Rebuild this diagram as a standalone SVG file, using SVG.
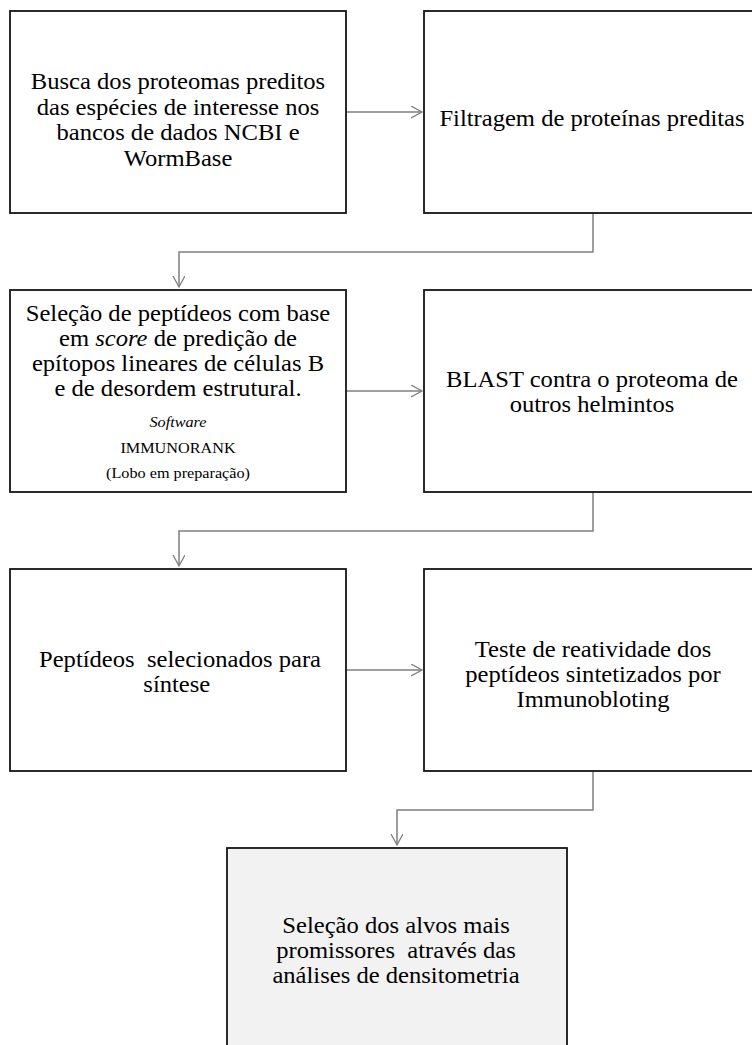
<svg xmlns="http://www.w3.org/2000/svg" width="752" height="1045" viewBox="0 0 752 1045">
<style>
.box{fill:#ffffff;stroke:#151515;stroke-width:1.8}
.box.final{fill:#f2f2f2}
.t{font-family:"Liberation Serif","Times New Roman",serif;font-size:23px;fill:#000;text-anchor:middle}
.s{font-family:"Liberation Serif","Times New Roman",serif;font-size:15px;fill:#000;text-anchor:middle}
.i{font-style:italic}
.pre{white-space:pre}
.conn{fill:none;stroke:#7f7f7f;stroke-width:1.5}
</style>
<defs>
<marker id="arr" markerUnits="userSpaceOnUse" markerWidth="14" markerHeight="14" refX="11" refY="6" orient="auto">
<path d="M0,0 L11,6 L0,12" fill="none" stroke="#7f7f7f" stroke-width="1.3"/>
</marker>
</defs>
<rect width="752" height="1045" fill="#ffffff"/>
<g id="connectors">
<path class="conn" d="M346,112 H422" marker-end="url(#arr)"/>
<path class="conn" d="M346,391 H422" marker-end="url(#arr)"/>
<path class="conn" d="M346,670 H422" marker-end="url(#arr)"/>
<path class="conn" d="M593,213 V252 H179 V287" marker-end="url(#arr)"/>
<path class="conn" d="M593,492 V531 H179 V566" marker-end="url(#arr)"/>
<path class="conn" d="M593,771 V810 H397 V845" marker-end="url(#arr)"/>
</g>
<g id="n1">
<rect class="box" x="10" y="11" width="336" height="202"/>
<g transform="translate(178 0) scale(1.07 1)">
<text class="t" x="0" y="89">Busca dos proteomas preditos</text>
<text class="t" x="0" y="115">das espécies de interesse nos</text>
<text class="t" x="0" y="140">bancos de dados NCBI e</text>
<text class="t" x="0" y="166">WormBase</text>
</g>
</g>
<g id="n2">
<rect class="box" x="424" y="11" width="338" height="202"/>
<g transform="translate(592 0) scale(1.07 1)">
<text class="t" x="0" y="126">Filtragem de proteínas preditas</text>
</g>
</g>
<g id="n3">
<rect class="box" x="10" y="290" width="336" height="202"/>
<g transform="translate(178 0) scale(1.07 1)">
<text class="t" x="0" y="321">Seleção de peptídeos com base</text>
<text class="t" x="0" y="346">em <tspan class="i">score</tspan> de predição de</text>
<text class="t" x="0" y="371">epítopos lineares de células B</text>
<text class="t" x="0" y="396">e de desordem estrutural.</text>
</g>
<g transform="translate(178 0) scale(1.08 1)">
<text class="s i" x="0" y="427">Software</text>
<text class="s" x="0" y="453">IMMUNORANK</text>
<text class="s" x="0" y="478">(Lobo em preparação)</text>
</g>
</g>
<g id="n4">
<rect class="box" x="424" y="290" width="338" height="202"/>
<g transform="translate(592 0) scale(1.07 1)">
<text class="t" x="0" y="387">BLAST contra o proteoma de</text>
<text class="t" x="0" y="412">outros helmintos</text>
</g>
</g>
<g id="n5">
<rect class="box" x="10" y="569" width="336" height="202"/>
<g transform="translate(180 0) scale(1.07 1)">
<text class="t pre" x="0" y="667">Peptídeos  selecionados para</text>
<text class="t" x="-3" y="692">síntese</text>
</g>
</g>
<g id="n6">
<rect class="box" x="424" y="569" width="338" height="202"/>
<g transform="translate(593 0) scale(1.07 1)">
<text class="t" x="0" y="657">Teste de reatividade dos</text>
<text class="t" x="0" y="682">peptídeos sintetizados por</text>
<text class="t" x="0" y="707">Immunobloting</text>
</g>
</g>
<g id="n7">
<rect class="box final" x="227" y="848" width="340" height="210"/>
<g transform="translate(396 0) scale(1.07 1)">
<text class="t" x="0" y="933">Seleção dos alvos mais</text>
<text class="t pre" x="0" y="958">promissores  através das</text>
<text class="t" x="0" y="983">análises de densitometria</text>
</g>
</g>
</svg>
